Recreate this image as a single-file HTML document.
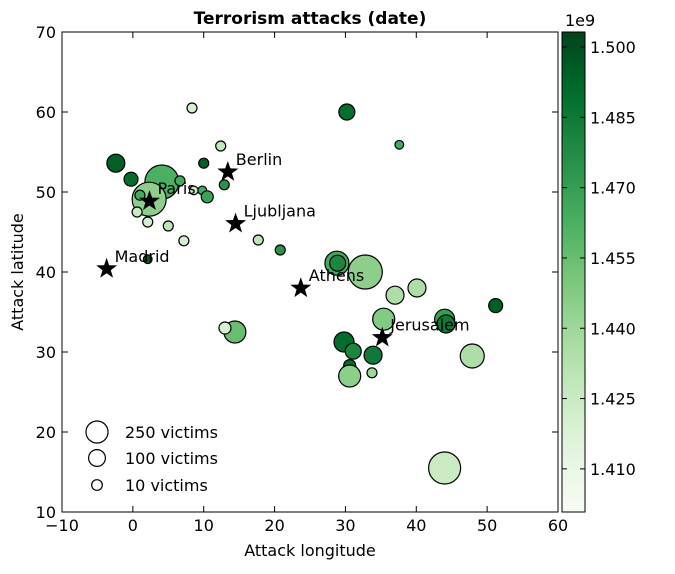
<!DOCTYPE html>
<html><head><meta charset="utf-8"><style>
body{margin:0;background:#fff;font-family:"DejaVu Sans","Liberation Sans",sans-serif;}
svg text{font-family:"DejaVu Sans","Liberation Sans",sans-serif;}
</style></head><body>
<svg id="c" width="675" height="570" viewBox="0 0 675 570" xmlns="http://www.w3.org/2000/svg"></svg>
<script>
const lons=[8.35,12.4,-2.4,10.0,-0.26,4.1,6.65,12.9,8.6,9.8,10.5,2.3,1.0,0.6,2.1,5.0,7.2,2.1,17.7,20.8,14.4,13.0,30.2,37.6,28.8,28.9,32.8,40.1,37.0,35.4,44.0,44.2,51.2,29.8,31.1,33.9,30.6,30.6,33.75,47.9,44.0];
const lats=[60.5,55.75,53.6,53.6,51.6,51.25,51.4,50.9,50.2,50.2,49.4,49.1,49.6,47.5,46.25,45.75,43.9,41.6,44.0,42.75,32.5,33.0,60.0,55.9,41.1,41.1,40.0,38.0,37.1,34.1,34.1,33.5,35.8,31.25,30.1,29.6,28.3,27.0,27.4,29.5,15.5];
const victims=[6,6,128,6,47,847,6,6,1,1,22,847,6,6,6,6,6,1,6,6,249,22,83,1,324,83,847,128,128,249,184,128,47,184,83,128,22,249,6,324,723];
const dates=[1.420,1.428,1.495,1.495,1.490,1.462,1.465,1.475,1.425,1.465,1.468,1.445,1.465,1.425,1.420,1.430,1.420,1.495,1.430,1.475,1.455,1.420,1.490,1.465,1.465,1.480,1.445,1.435,1.435,1.448,1.470,1.485,1.495,1.490,1.480,1.485,1.490,1.445,1.440,1.435,1.425];
const cities=["Madrid","Paris","Berlin","Ljubljana","Athens","Jerusalem"];
const cityLon=[-3.7,2.35,13.4,14.5,23.7,35.2];
const cityLat=[40.4,48.86,52.5,46.05,37.98,31.8];
const xTicks=[-10,0,10,20,30,40,50,60];
const yTicks=[10,20,30,40,50,60,70];
const cbTicks=[1.410,1.425,1.440,1.455,1.470,1.485,1.500];
const legendVictims=[250,100,10];
const cbMin=1.4008, cbMax=1.5032;

const NS="http://www.w3.org/2000/svg";
const svg=document.getElementById('c');
function el(t,a,p){const e=document.createElementNS(NS,t);for(const k in a)e.setAttribute(k,a[k]);(p||svg).appendChild(e);return e;}
const L=62,R=558,T=32,B=512;
const X=v=>L+(v+10)/70*(R-L);
const Y=v=>B-(v-10)/60*(B-T);
const rad=v=>3.9+0.45*Math.sqrt(v);
const stops=["#f7fcf5","#e5f5e0","#c7e9c0","#a1d99b","#74c476","#41ab5d","#238b45","#006d2c","#00441b"];
function hex(h){return [1,3,5].map(i=>parseInt(h.substr(i,2),16));}
function cmap(t){t=Math.max(0,Math.min(1,t));const f=t*8,i=Math.min(7,Math.floor(f)),u=f-i;const a=hex(stops[i]),b=hex(stops[i+1]);return 'rgb('+a.map((v,k)=>Math.round(v+(b[k]-v)*u)).join(',')+')';}
const norm=d=>(d-cbMin)/(cbMax-cbMin);

let t=el('text',{x:310,y:24,'text-anchor':'middle','font-size':17,'font-weight':'bold'});t.textContent='Terrorism attacks (date)';



const g=el('g',{});


for(let i=0;i<lons.length;i++){
  const c=el('circle',{cx:X(lons[i]),cy:Y(lats[i]),r:rad(victims[i]),fill:cmap(norm(dates[i])),stroke:'#000','stroke-width':1.2},g);
  
  
}
function star(cx,cy,R1){let p=[];for(let k=0;k<10;k++){const r=k%2?R1*0.4:R1;const a=-Math.PI/2+k*Math.PI/5;p.push((cx+r*Math.cos(a)).toFixed(1)+','+(cy+r*Math.sin(a)).toFixed(1));}return p.join(' ');}
for(let i=0;i<cities.length;i++){
  const s=el('polygon',{points:star(X(cityLon[i]),Y(cityLat[i]),11),fill:'#000'});
  
  
  const tx=el('text',{x:X(cityLon[i])+8,y:Y(cityLat[i])-7,'font-size':16});tx.textContent=cities[i];
  
  
}
const fr=el('rect',{x:L,y:T,width:R-L,height:B-T,fill:'none',stroke:'#000','stroke-width':1});


xTicks.forEach(v=>{const x=X(v);el('line',{x1:x,x2:x,y1:B,y2:B-6,stroke:'#000'});el('line',{x1:x,x2:x,y1:T,y2:T+6,stroke:'#000'});
  const tx=el('text',{x:x,y:B+19,'text-anchor':'middle','font-size':16});tx.textContent=v<0?'\u2212'+(-v):v;
  
  });
yTicks.forEach(v=>{const y=Y(v);el('line',{x1:L,x2:L+6,y1:y,y2:y,stroke:'#000'});el('line',{x1:R,x2:R-6,y1:y,y2:y,stroke:'#000'});
  const tx=el('text',{x:L-6,y:y+6,'text-anchor':'end','font-size':16});tx.textContent=v;
  
  });
t=el('text',{x:310,y:556,'text-anchor':'middle','font-size':16});t.textContent='Attack longitude';


t=el('text',{x:0,y:0,'text-anchor':'middle','font-size':16,transform:'translate(23,272) rotate(-90)'});t.textContent='Attack latitude';



const ly=[432,458,485];
legendVictims.forEach((v,i)=>{
  const c=el('circle',{cx:97,cy:ly[i],r:rad(v),fill:'#fff',stroke:'#000','stroke-width':1.2});
  
  
  const tx=el('text',{x:125,y:ly[i]+6,'font-size':16});tx.textContent=v+' victims';
  
  
});

const CL=562,CR=585;
const defs=el('defs',{});
const lg=el('linearGradient',{id:'gr',x1:0,y1:1,x2:0,y2:0},defs);
for(let k=0;k<=20;k++)el('stop',{offset:k/20,'stop-color':cmap(k/20)},lg);
const cb=el('rect',{x:CL,y:T,width:CR-CL,height:B-T,fill:'url(#gr)',stroke:'#000'});


const CY=v=>B-(v-cbMin)/(cbMax-cbMin)*(B-T);
cbTicks.forEach(v=>{const y=CY(v);el('line',{x1:CR-5,x2:CR,y1:y,y2:y,stroke:'#000'});el('line',{x1:CL,x2:CL+5,y1:y,y2:y,stroke:'#000'});
  const tx=el('text',{x:CR+5,y:y+6,'font-size':16});tx.textContent=v.toFixed(3);
  
  });
t=el('text',{x:565,y:26,'font-size':16});t.textContent='1e9';


</script>
</body></html>
